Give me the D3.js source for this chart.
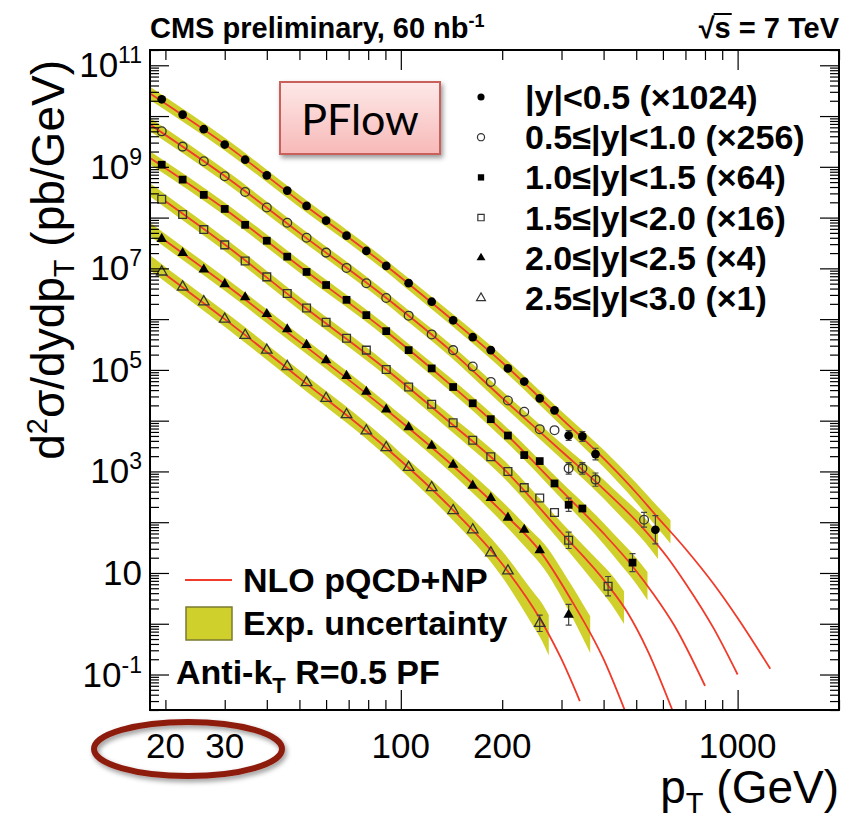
<!DOCTYPE html>
<html>
<head>
<meta charset="utf-8">
<script src="https://cdn.jsdelivr.net/npm/d3@7/dist/d3.min.js"></script>
<style>
  body { margin: 0; background: #fff; }
  svg { display: block; }
  text { font-family: "Liberation Sans", Arial, Helvetica, sans-serif; }
</style>
</head>
<body>
<div id="chart"></div>
<script>
// ---- data ----
var seriesNames = ["|y|<0.5 (\u00d71024)", "0.5\u2264|y|<1.0 (\u00d7256)", "1.0\u2264|y|<1.5 (\u00d764)",
                   "1.5\u2264|y|<2.0 (\u00d716)", "2.0\u2264|y|<2.5 (\u00d74)", "2.5\u2264|y|<3.0 (\u00d71)"];
var markerKind = ["circle", "circle", "square", "square", "triangle", "triangle"];
var markerFilled = [true, false, true, false, true, false];

// measured points: pT (GeV) and d2sigma/dydpT (pb/GeV, scaled)
var s1Pt  = [19.5, 22.5, 26, 30, 34.5, 40, 46, 52.5, 60, 69, 79, 90.5, 105.5, 123.5, 143, 163.5, 185, 208, 232.5, 258.5, 286, 315, 346, 378.5, 570];
var s1Val = [2.14e10, 1.07e10, 5.5e9, 2.75e9, 1.38e9, 6.8e8, 3.4e8, 1.7e8, 8.7e7, 4.4e7, 2.2e7, 1.12e7, 5.1e6, 2.2e6, 9.5e5, 4.4e5, 2.45e5, 1.07e5, 5.9e4, 2.75e4, 1.6e4, 5.1e3, 4.9e3, 2.2e3, 71];
var s2Pt  = [19.5, 22.5, 26, 30, 34.5, 40, 46, 52.5, 60, 69, 79, 90.5, 105.5, 123.5, 143, 163.5, 185, 208, 232.5, 258.5, 286, 315, 346, 378.5, 527.5];
var s2Val = [5.0e9, 2.5e9, 1.29e9, 6.5e8, 3.2e8, 1.58e8, 7.9e7, 4.0e7, 2.04e7, 1.02e7, 5.1e6, 2.6e6, 1.17e6, 5.0e5, 2.45e5, 1.17e5, 5.8e4, 2.5e4, 1.5e4, 6.8e3, 6.5e3, 1.15e3, 1.15e3, 690, 112];
var s3Pt  = [19.5, 22.5, 26, 30, 34.5, 40, 46, 52.5, 60, 69, 79, 90.5, 105.5, 123.5, 143, 163.5, 185, 208, 232.5, 258.5, 286, 315, 346, 487.5];
var s3Val = [1.1e9, 5.6e8, 2.8e8, 1.48e8, 7.2e7, 3.5e7, 1.7e7, 8.5e6, 4.7e6, 2.4e6, 1.2e6, 5.8e5, 2.45e5, 1.07e5, 4.6e4, 2.2e4, 1.07e4, 5.1e3, 2.1e3, 1.6e3, 580, 220, 186, 16];
var s4Pt  = [19.5, 22.5, 26, 30, 34.5, 40, 46, 52.5, 60, 69, 79, 90.5, 105.5, 123.5, 143, 163.5, 185, 208, 232.5, 258.5, 286, 315, 412.5];
var s4Val = [2.3e8, 1.15e8, 5.8e7, 2.9e7, 1.4e7, 6.8e6, 3.2e6, 1.66e6, 8.7e5, 4.2e5, 2.45e5, 1.02e5, 4.6e4, 2.1e4, 9.1e3, 4.1e3, 1.95e3, 1.0e3, 480, 300, 155, 44, 5.5];
var s5Pt  = [19.5, 22.5, 26, 30, 34.5, 40, 46, 52.5, 60, 69, 79, 90.5, 105.5, 123.5, 143, 163.5, 185, 208, 232.5, 258.5, 315];
var s5Val = [3.8e7, 2.0e7, 9.5e6, 4.9e6, 2.7e6, 1.26e6, 6.3e5, 3.1e5, 1.55e5, 7.6e4, 3.7e4, 1.66e4, 7.4e3, 3.2e3, 1.35e3, 525, 300, 123, 71, 28, 1.5];
var s6Pt  = [19.5, 22.5, 26, 30, 34.5, 40, 46, 52.5, 60, 69, 79, 90.5, 105.5, 123.5, 143, 163.5, 185, 208, 258.5];
var s6Val = [8.5e6, 4.3e6, 2.2e6, 1.0e6, 4.8e5, 2.45e5, 1.17e5, 5.6e4, 2.75e4, 1.32e4, 6.3e3, 2.95e3, 1.2e3, 480, 170, 71, 25, 11, 1.02];

// statistical error bars (relative, only where visible)
var s1Err = {315: 0.25, 346: 0.25, 378.5: 0.3, 570: 0.9};
var s2Err = {315: 0.3, 346: 0.3, 378.5: 0.35, 527.5: 0.4};
var s3Err = {315: 0.35, 487.5: 0.5};
var s4Err = {315: 0.45, 412.5: 0.55};
var s5Err = {315: 0.6};
var s6Err = {258.5: 0.45};

// NLO pQCD+NP curves (nodes)
var t1Pt  = [18, 30, 50, 90, 140, 200, 300, 400, 500, 570, 700, 850, 1000, 1250];
var t1Val = [2.8e10, 2.8e9, 2.1e8, 1.15e7, 1.05e6, 1.4e5, 1.1e4, 1.8e3, 380, 140, 30, 6, 1.3, 0.13];
var t2Pt  = [18, 30, 50, 90, 140, 200, 300, 400, 530, 620, 700, 850, 1000];
var t2Val = [6.8e9, 6.6e8, 5.0e7, 2.7e6, 2.45e5, 2.8e4, 2.5e3, 450, 70, 20, 6.3, 0.8, 0.1];
var t3Pt  = [18, 30, 50, 90, 140, 200, 300, 400, 490, 560, 650, 800];
var t3Val = [1.5e9, 1.48e8, 1.1e7, 5.9e5, 5.2e4, 6.4e3, 420, 60, 13, 4, 0.9, 0.06];
var t4Pt  = [20, 30, 50, 90, 140, 200, 300, 410, 470, 540, 640];
var t4Val = [2.1e8, 2.95e7, 2.05e6, 1.05e5, 9.2e3, 1.2e3, 62, 6, 1.7, 0.3, 0.02];
var t5Pt  = [20, 30, 50, 90, 140, 200, 260, 320, 400, 470];
var t5Val = [3.5e7, 4.9e6, 3.6e5, 1.7e4, 1.45e3, 160, 26, 3, 0.2, 0.015];
var t6Pt  = [20, 30, 50, 90, 140, 200, 260, 300, 340];
var t6Val = [7.6e6, 1.0e6, 6.9e4, 3.0e3, 200, 15, 1.2, 0.2, 0.03];

// experimental uncertainty (relative) around the curves
var u1Pt = [18, 100, 300, 500, 632],  u1 = [0.35, 0.3, 0.4, 0.55, 0.7];
var u2Pt = [18, 100, 300, 450, 580],  u2 = [0.35, 0.3, 0.42, 0.6, 0.8];
var u3Pt = [18, 100, 300, 450, 540],  u3 = [0.35, 0.32, 0.45, 0.7, 0.9];
var u4Pt = [18, 100, 300, 400, 460],  u4 = [0.35, 0.35, 0.6, 0.9, 1.1];
var u5Pt = [18, 100, 250, 320, 365],  u5 = [0.35, 0.38, 0.7, 1.0, 1.3];
var u6Pt = [18, 100, 200, 250, 275],  u6 = [0.4, 0.45, 0.8, 1.2, 1.5];

var yTickExp = [11, 9, 7, 5, 3, 1, -1];
var xTickLabels = [20, 30, 100, 200, 1000];

var pts   = [[s1Pt, s1Val, s1Err], [s2Pt, s2Val, s2Err], [s3Pt, s3Val, s3Err], [s4Pt, s4Val, s4Err], [s5Pt, s5Val, s5Err], [s6Pt, s6Val, s6Err]];
var theo  = [[t1Pt, t1Val], [t2Pt, t2Val], [t3Pt, t3Val], [t4Pt, t4Val], [t5Pt, t5Val], [t6Pt, t6Val]];
var unc   = [[u1Pt, u1], [u2Pt, u2], [u3Pt, u3], [u4Pt, u4], [u5Pt, u5], [u6Pt, u6]];

// ---- layout ----
var W = 855, H = 824;
var frame = {left: 150, right: 839, top: 50, bottom: 710};
var bandColor = "#d0d02c", lineColor = "#f03a2a";

var svg = d3.select("#chart").append("svg")
    .attr("width", W).attr("height", H);

var defs = svg.append("defs");
var grad = defs.append("linearGradient").attr("id", "pink").attr("x1", 0).attr("y1", 0).attr("x2", 0).attr("y2", 1);
grad.append("stop").attr("offset", "0%").attr("stop-color", "#fde9e8");
grad.append("stop").attr("offset", "100%").attr("stop-color", "#f7b9b8");
var sh = defs.append("filter").attr("id", "shadow").attr("x", "-20%").attr("y", "-20%").attr("width", "150%").attr("height", "160%");
sh.append("feDropShadow").attr("dx", 2).attr("dy", 3).attr("stdDeviation", 2.5).attr("flood-opacity", 0.4);
defs.append("clipPath").attr("id", "plotclip").append("rect")
    .attr("x", frame.left).attr("y", frame.top)
    .attr("width", frame.right - frame.left).attr("height", frame.bottom - frame.top);

var x = d3.scaleLog().domain([18, 2000]).range([frame.left, frame.right]);
var y = d3.scaleLog().domain([0.02, 2e11]).range([frame.bottom, frame.top]);

// ---- bands and curves ----
var plot = svg.append("g").attr("clip-path", "url(#plotclip)");

function interpLog(xs, vs, p) {
  // linear interpolation in log-log between read nodes
  var lx = xs.map(Math.log), lp = Math.log(p);
  for (var i = 0; i < xs.length - 1; i++) {
    if (lp <= lx[i + 1]) {
      var t = (lp - lx[i]) / (lx[i + 1] - lx[i]);
      return Math.exp(Math.log(vs[i]) * (1 - t) + Math.log(vs[i + 1]) * t);
    }
  }
  return vs[vs.length - 1];
}

theo.forEach(function(t, i) {
  var uPt = unc[i][0], uVal = unc[i][1];
  var nodes = d3.sort(d3.union(t[0].filter(function(p) { return p <= uPt[uPt.length - 1]; }), uPt));
  var band = nodes.map(function(p) {
    var v = interpLog(t[0], t[1], p), u = interpLog(uPt, uVal, p);
    return {p: p, lo: v / (1 + u), hi: v * (1 + u)};
  });
  plot.append("path")
    .datum(band)
    .attr("fill", bandColor)
    .attr("d", d3.area()
      .x(function(d) { return x(d.p); })
      .y0(function(d) { return y(d.lo); })
      .y1(function(d) { return y(d.hi); })
      .curve(d3.curveMonotoneX));
});

theo.forEach(function(t) {
  plot.append("path")
    .datum(d3.zip(t[0], t[1]))
    .attr("fill", "none")
    .attr("stroke", lineColor)
    .attr("stroke-width", 1.8)
    .attr("d", d3.line()
      .x(function(d) { return x(d[0]); })
      .y(function(d) { return y(d[1]); })
      .curve(d3.curveMonotoneX));
});

// ---- data points ----
function symbolFor(kind) {
  return kind === "circle" ? d3.symbolCircle : kind === "square" ? d3.symbolSquare : d3.symbolTriangle;
}
pts.forEach(function(s, i) {
  var g = plot.append("g");
  var rows = d3.zip(s[0], s[1]);
  rows.forEach(function(d) {
    var e = s[2][d[0]];
    if (e) {
      var yt = y(d[1] * (1 + e)), yb = y(d[1] / (1 + e)), xc = x(d[0]);
      g.append("path")
        .attr("d", "M" + xc + "," + yt + "V" + yb + "M" + (xc - 3) + "," + yt + "H" + (xc + 3) + "M" + (xc - 3) + "," + yb + "H" + (xc + 3))
        .attr("stroke", "#444").attr("stroke-width", 1.2).attr("fill", "none");
    }
  });
  g.selectAll("path.m")
    .data(rows)
    .enter().append("path")
      .attr("class", "m")
      .attr("transform", function(d) { return "translate(" + x(d[0]) + "," + y(d[1]) + ")"; })
      .attr("d", d3.symbol().type(symbolFor(markerKind[i])).size(markerKind[i] === "triangle" ? 48 : 60))
      .attr("fill", markerFilled[i] ? "#000" : "none")
      .attr("stroke", markerFilled[i] ? "none" : "#333")
      .attr("stroke-width", 1.3);
});

// ---- frame and ticks ----
var yMinor = [], yMajor = [];
for (var e = -2; e <= 11; e++) {
  yMajor.push(Math.pow(10, e));
  for (var k = 2; k <= 9; k++) yMinor.push(k * Math.pow(10, e));
}
yMajor = yMajor.filter(function(v) { return v >= 0.02 && v <= 2e11; });
yMinor = yMinor.filter(function(v) { return v >= 0.02 && v <= 2e11; });
var xMajor = [100, 1000];
var xMinor = [20, 30, 40, 50, 60, 70, 80, 90, 200, 300, 400, 500, 600, 700, 800, 900, 2000];

function tickAxis(axis, vals, size, tx, ty) {
  var g = svg.append("g").attr("transform", "translate(" + tx + "," + ty + ")")
    .call(axis.tickValues(vals).tickSize(-size).tickSizeOuter(0).tickFormat(""));
  g.select(".domain").remove();
  g.selectAll("line").attr("stroke", "#000").attr("stroke-width", 1.2);
}
tickAxis(d3.axisLeft(y), yMajor, 19, frame.left, 0);
tickAxis(d3.axisLeft(y), yMinor, 9, frame.left, 0);
tickAxis(d3.axisRight(y), yMajor, 19, frame.right, 0);
tickAxis(d3.axisRight(y), yMinor, 9, frame.right, 0);
tickAxis(d3.axisBottom(x), xMajor, 20, 0, frame.bottom);
tickAxis(d3.axisBottom(x), xMinor, 10, 0, frame.bottom);
tickAxis(d3.axisTop(x), xMajor, 20, 0, frame.top);
tickAxis(d3.axisTop(x), xMinor, 10, 0, frame.top);

svg.append("rect")
  .attr("x", frame.left).attr("y", frame.top)
  .attr("width", frame.right - frame.left).attr("height", frame.bottom - frame.top)
  .attr("fill", "none").attr("stroke", "#000").attr("stroke-width", 2);

// tick labels
yTickExp.forEach(function(ex) {
  var t = svg.append("text")
    .attr("x", frame.left - 8).attr("y", y(Math.pow(10, ex)) + 12)
    .attr("text-anchor", "end").attr("font-size", 35);
  if (ex === 1) { t.text("10"); return; }
  t.append("tspan").text("10");
  t.append("tspan").attr("dy", -14).attr("font-size", 23).text(String(ex));
});
xTickLabels.forEach(function(v) {
  svg.append("text")
    .attr("x", x(v)).attr("y", 758)
    .attr("text-anchor", "middle").attr("font-size", 35)
    .text(v);
});

// axis titles
var yt = svg.append("text")
  .attr("transform", "translate(64,60) rotate(-90)")
  .attr("text-anchor", "end").attr("font-size", 46);
yt.append("tspan").text("d");
yt.append("tspan").attr("dy", -17).attr("font-size", 29).text("2");
yt.append("tspan").attr("dy", 17).text("\u03c3/dydp");
yt.append("tspan").attr("dy", 10).attr("font-size", 29).text("T");
yt.append("tspan").attr("dy", -10).text(" (pb/GeV)");

var xt = svg.append("text")
  .attr("x", frame.right).attr("y", 803)
  .attr("text-anchor", "end").attr("font-size", 46);
xt.append("tspan").text("p");
xt.append("tspan").attr("dy", 10).attr("font-size", 29).text("T");
xt.append("tspan").attr("dy", -10).text(" (GeV)");

// header
var ht = svg.append("text").attr("x", frame.left).attr("y", 38)
  .attr("font-size", 29).attr("font-weight", "bold");
ht.append("tspan").text("CMS preliminary, 60 nb");
ht.append("tspan").attr("dy", -11).attr("font-size", 18).text("-1");

var rs = svg.append("text").attr("x", frame.right).attr("y", 38)
  .attr("text-anchor", "end").attr("font-size", 29).attr("font-weight", "bold")
  .text("\u221as = 7 TeV");
var rsNode = rs.node();
var sStart = rsNode.getStartPositionOfChar(1).x, sEnd = rsNode.getEndPositionOfChar(1).x;
svg.append("line").attr("x1", sStart - 1).attr("x2", sEnd + 1).attr("y1", 14).attr("y2", 14)
  .attr("stroke", "#000").attr("stroke-width", 2);

// ---- legend (series) ----
seriesNames.forEach(function(name, i) {
  var cy = 97 + i * 40.2;
  svg.append("path")
    .attr("transform", "translate(481," + cy + ")")
    .attr("d", d3.symbol().type(symbolFor(markerKind[i])).size(markerKind[i] === "triangle" ? 34 : 40))
    .attr("fill", markerFilled[i] ? "#000" : "none")
    .attr("stroke", markerFilled[i] ? "none" : "#333")
    .attr("stroke-width", 1.2);
  svg.append("text")
    .attr("x", 525).attr("y", cy + 12)
    .attr("font-size", 34).attr("font-weight", "bold")
    .text(name);
});

// ---- legend (theory / band) ----
svg.append("line").attr("x1", 185).attr("x2", 232).attr("y1", 580).attr("y2", 580)
  .attr("stroke", lineColor).attr("stroke-width", 2);
svg.append("text").attr("x", 243).attr("y", 592)
  .attr("font-size", 34).attr("font-weight", "bold").text("NLO pQCD+NP");
svg.append("rect").attr("x", 186).attr("y", 607).attr("width", 46).attr("height", 33)
  .attr("fill", bandColor).attr("stroke", "#7a7a30").attr("stroke-width", 1.5);
svg.append("text").attr("x", 243).attr("y", 635)
  .attr("font-size", 34).attr("font-weight", "bold").text("Exp. uncertainty");
var ak = svg.append("text").attr("x", 176).attr("y", 684)
  .attr("font-size", 34).attr("font-weight", "bold");
ak.append("tspan").text("Anti-k");
ak.append("tspan").attr("dy", 9).attr("font-size", 22).text("T");
ak.append("tspan").attr("dy", -9).text(" R=0.5 PF");

// ---- annotations ----
svg.append("rect").attr("x", 280).attr("y", 82).attr("width", 160).attr("height", 72)
  .attr("fill", "url(#pink)").attr("stroke", "#c9605c").attr("stroke-width", 2)
  .attr("filter", "url(#shadow)");
svg.append("text").attr("x", 360).attr("y", 135)
  .attr("text-anchor", "middle").attr("font-size", 43)
  .style("font-family", "Lato, 'Open Sans', sans-serif")
  .text("PFlow");

svg.append("ellipse").attr("cx", 188).attr("cy", 749).attr("rx", 94).attr("ry", 27)
  .attr("fill", "none").attr("stroke", "#8e1b10").attr("stroke-width", 6)
  .attr("filter", "url(#shadow)");
</script>
</body>
</html>
